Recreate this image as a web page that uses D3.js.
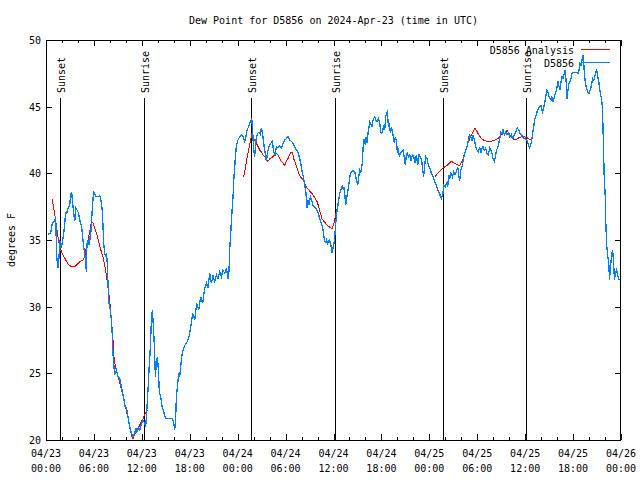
<!DOCTYPE html>
<html><head><meta charset="utf-8">
<script src="https://cdn.jsdelivr.net/npm/d3@7"></script>
<style>
html,body{margin:0;padding:0;background:#fff;}
text{font-family:"DejaVu Sans Mono","Liberation Mono",monospace;font-size:10px;fill:#000;}
</style></head>
<body>
<svg id="chart" width="640" height="480"></svg>
<script>
// ---- data (hours after 2024-04-23 00:00 UTC) ----
const titleText = "Dew Point for D5856 on 2024-Apr-23 (time in UTC)";
const yLabel = "degrees F";
const seriesNames = ["D5856 Analysis", "D5856"];
const yTicks = [20, 25, 30, 35, 40, 45, 50];

const obsHours = [0.25,0.59,0.68,0.80,1.09,1.21,1.34,1.50,1.63,1.72,1.84,1.97,2.22,2.47,2.59,2.72,2.97,3.09,3.22,3.31,3.47,3.60,3.72,3.88,4.09,4.22,4.35,4.47,4.56,4.72,4.85,4.97,5.06,5.13,5.26,5.38,5.47,5.56,5.69,5.81,5.94,6.01,6.14,6.31,6.51,6.72,6.85,6.94,7.06,7.14,7.23,7.35,7.48,7.56,7.68,7.76,7.89,8.06,8.19,8.31,8.39,8.51,8.60,8.82,9.02,9.23,9.35,9.52,9.64,9.77,9.85,10.07,10.19,10.32,10.48,10.69,10.89,11.11,11.23,11.39,11.57,11.73,11.86,11.98,12.15,12.36,12.48,12.57,12.70,12.82,12.90,13.07,13.20,13.32,13.45,13.57,13.70,13.82,13.95,14.07,14.20,14.36,14.53,14.74,14.99,15.28,15.58,15.83,15.99,16.12,16.24,16.33,16.45,16.62,16.74,16.87,16.99,17.16,17.37,17.58,17.78,17.91,18.12,18.37,18.62,18.87,19.12,19.37,19.62,19.87,20.09,20.29,20.50,20.71,20.91,21.13,21.34,21.54,21.75,21.96,22.16,22.38,22.59,22.79,22.92,23.00,23.13,23.25,23.42,23.54,23.72,23.84,24.04,24.26,24.47,24.67,24.88,25.04,25.17,25.38,25.51,25.63,25.76,25.84,26.01,26.13,26.22,26.35,26.51,26.67,26.85,26.97,27.10,27.26,27.42,27.60,27.72,27.92,28.14,28.35,28.51,28.68,28.85,29.05,29.26,29.48,29.68,29.89,30.10,30.30,30.52,30.73,30.93,31.14,31.35,31.56,31.77,31.98,32.11,32.27,32.39,32.52,32.61,32.68,32.81,32.93,33.11,33.27,33.43,33.61,33.77,33.93,34.11,34.27,34.49,34.69,34.81,34.99,35.11,35.24,35.36,35.49,35.61,35.74,35.81,35.94,36.06,36.19,36.28,36.40,36.53,36.65,36.78,36.90,37.03,37.11,37.24,37.32,37.44,37.53,37.62,37.74,37.87,37.99,38.12,38.24,38.44,38.66,38.78,38.91,39.03,39.16,39.28,39.41,39.53,39.62,39.69,39.78,39.91,40.00,40.07,40.20,40.32,40.45,40.53,40.66,40.82,40.95,41.16,41.28,41.45,41.62,41.79,41.91,42.04,42.16,42.29,42.41,42.54,42.66,42.75,42.88,43.00,43.13,43.25,43.38,43.50,43.63,43.75,43.88,44.00,44.13,44.25,44.38,44.54,44.70,44.88,45.00,45.13,45.25,45.38,45.54,45.71,45.88,46.04,46.21,46.38,46.54,46.71,46.88,47.04,47.17,47.29,47.42,47.54,47.71,47.88,48.05,48.26,48.46,48.67,48.88,49.08,49.29,49.50,49.70,49.83,50.01,50.14,50.30,50.43,50.55,50.71,50.89,51.05,51.22,51.39,51.55,51.68,51.80,51.93,52.05,52.22,52.39,52.55,52.72,52.89,53.02,53.18,53.34,53.47,53.64,53.81,53.97,54.14,54.31,54.43,54.60,54.72,54.90,55.06,55.22,55.40,55.56,55.69,55.85,55.97,56.15,56.27,56.40,56.56,56.69,56.81,56.97,57.10,57.23,57.40,57.56,57.73,57.90,58.06,58.27,58.48,58.65,58.82,59.03,59.19,59.36,59.53,59.69,59.86,60.03,60.19,60.36,60.53,60.69,60.82,60.94,61.07,61.19,61.32,61.48,61.66,61.82,61.98,62.16,62.32,62.48,62.61,62.73,62.86,62.98,63.11,63.24,63.36,63.49,63.61,63.74,63.86,63.99,64.11,64.24,64.36,64.49,64.61,64.74,64.86,64.99,65.11,65.24,65.36,65.49,65.61,65.74,65.86,65.99,66.20,66.42,66.62,66.74,66.87,66.99,67.12,67.24,67.33,67.42,67.54,67.67,67.83,68.00,68.17,68.34,68.46,68.59,68.71,68.84,68.96,69.09,69.21,69.34,69.50,69.63,69.72,69.81,69.88,70.01,70.10,70.22,70.35,70.47,70.56,70.69,70.81,70.94,71.06,71.18,71.30,71.43,71.55,71.68,71.85];
const obsValues = [35.45,35.5,35.9,36.25,36.4,36.8,33.75,32.9,33.65,35.0,34.4,34.6,35.5,37.05,37.0,37.3,37.6,38.4,38.6,37.9,37.0,36.4,37.4,37.25,37.0,36.5,36.25,35.9,35.4,34.5,34.0,33.3,32.6,34.75,35.0,34.6,35.3,35.0,36.3,37.5,38.5,38.6,38.4,38.25,38.25,38.3,38.1,37.75,37.1,36.0,34.75,34.0,33.75,34.0,33.25,31.75,30.25,29.75,29.0,27.75,26.5,25.5,24.9,25.25,24.75,24.6,24.25,23.75,23.4,23.0,22.5,22.4,22.0,21.5,21.0,20.5,20.25,20.5,20.9,20.6,20.9,20.75,21.0,21.25,21.5,21.25,21.0,21.75,23.0,24.25,25.25,27.0,29.0,29.75,28.5,27.0,24.75,25.75,26.25,25.25,23.5,23.25,22.5,22.1,21.6,21.6,21.6,21.6,21.25,20.75,21.75,23.25,24.0,25.0,24.75,25.5,26.25,26.75,27.1,27.25,27.5,27.75,28.5,29.5,29.0,30.25,29.75,30.75,30.25,31.4,31.75,31.4,32.55,31.75,32.3,31.9,32.4,32.1,32.6,32.25,32.75,32.5,32.9,32.1,32.75,34.25,35.5,36.75,38.25,39.75,41.25,42.1,42.5,42.75,42.9,42.75,42.4,42.75,43.25,43.5,43.75,43.9,44.1,43.5,41.75,41.25,42.0,42.75,43.0,43.1,42.9,43.4,43.1,42.25,41.6,40.9,41.5,42.0,42.25,42.4,41.6,41.4,42.0,41.9,42.05,41.9,42.25,42.5,42.6,42.75,42.5,42.4,42.25,42.0,41.75,41.6,41.1,40.5,40.0,39.6,39.1,38.75,38.0,37.4,38.0,37.6,38.25,38.0,37.6,37.5,37.4,37.25,37.0,36.6,36.25,35.75,35.25,34.75,35.0,34.75,34.9,35.0,34.75,34.4,34.0,34.4,34.75,35.5,36.25,37.0,37.6,38.0,38.5,38.75,38.9,39.1,38.75,39.0,38.25,37.6,38.0,38.5,38.9,39.5,40.0,40.1,40.25,40.1,39.75,39.4,39.1,39.75,40.25,40.1,40.4,40.9,41.75,42.6,42.4,42.1,42.75,42.25,43.0,43.5,43.9,43.75,43.5,44.0,44.25,44.0,43.9,44.1,43.75,43.1,43.0,43.25,43.5,43.25,44.25,44.5,44.6,43.5,43.75,43.0,43.5,43.1,42.75,42.25,42.75,42.4,41.6,41.75,41.25,41.5,41.6,41.75,41.1,40.6,41.4,41.5,41.25,41.4,40.9,41.4,41.25,40.75,41.4,40.6,41.4,41.25,41.0,40.25,39.75,40.6,41.25,41.1,40.6,40.4,40.0,39.8,39.4,39.1,38.75,38.45,38.1,38.5,39.1,39.0,39.25,39.0,39.9,39.6,40.0,39.75,40.1,39.9,40.1,40.5,39.9,39.4,40.25,40.4,40.9,41.4,41.75,42.0,42.5,42.9,42.75,42.5,42.9,42.5,42.0,41.75,41.6,42.0,41.5,41.9,42.0,41.75,41.9,41.5,41.4,41.9,41.75,41.5,41.1,40.9,41.25,41.75,41.9,42.25,42.6,43.1,43.0,43.25,42.9,43.1,42.9,43.0,42.75,42.9,42.6,42.9,43.1,43.4,43.25,43.0,42.9,42.75,42.6,42.6,42.5,42.25,41.9,42.1,42.5,43.0,43.5,44.0,44.25,44.6,44.9,45.0,45.1,44.6,44.9,45.4,45.9,46.25,46.1,45.75,45.6,45.5,45.75,45.4,45.6,45.9,46.1,46.5,46.9,46.5,46.25,46.9,47.25,47.1,47.4,47.75,47.1,45.6,46.25,46.75,46.9,47.1,47.5,47.55,47.55,47.55,47.5,47.75,48.25,48.1,48.5,48.9,48.25,47.5,46.75,46.4,46.1,46.0,46.25,46.75,47.1,47.0,47.25,47.6,47.75,47.25,46.9,46.25,45.75,45.25,44.0,42.0,40.0,38.5,36.25,34.5,33.75,33.25,32.0,33.0,33.75,34.25,33.5,32.0,32.5,32.75,32.5,32.1,32.0];

// analysis series; null marks a gap between runs
const anaHours = [0.75,0.96,1.18,1.38,1.55,1.72,1.84,2.13,2.47,2.75,3.06,3.38,3.72,4.01,4.31,4.63,4.85,5.06,5.26,5.47,5.69,5.89,6.10,6.31,6.51,6.72,6.94,7.14,7.35,7.56,7.76,7.98,8.10,8.26,8.39,8.51,8.69,8.89,9.10,9.32,9.52,9.73,9.94,10.14,10.36,10.57,10.77,10.89,11.11,11.32,11.52,11.73,11.95,12.15,12.36,12.57,12.77,
  18.0,
  24.76,24.92,25.09,25.26,25.42,25.60,25.76,25.92,26.13,26.35,26.55,26.76,26.97,27.17,27.39,27.60,27.80,28.01,28.42,28.64,28.85,29.05,29.26,29.48,29.68,29.89,30.10,30.30,30.52,30.73,30.85,31.02,31.23,31.43,31.64,31.86,32.06,32.27,32.48,32.68,32.90,33.11,33.31,33.52,33.73,33.93,34.15,34.36,34.56,34.77,35.02,35.24,35.44,35.65,35.86,36.06,36.28,36.49,36.69,
  42.0,
  48.67,49.08,49.50,49.70,50.21,50.76,51.18,51.80,52.22,52.64,53.05,53.47,53.72,54.09,54.52,54.93,55.35,55.77,56.19,56.60,57.03,57.44,57.73,58.06,58.48,58.90,59.32,59.73,60.15,60.57,60.77];
const anaValues = [38.1,37.4,36.6,35.75,35.0,34.6,34.25,33.9,33.5,33.2,33.05,33.0,33.05,33.25,33.4,33.5,33.75,34.5,35.0,35.6,36.4,36.25,35.9,35.5,35.1,34.6,34.1,33.75,33.1,32.4,31.4,30.5,29.5,28.5,27.5,26.25,25.5,25.0,24.6,24.1,23.6,23.1,22.5,22.0,21.4,20.75,20.25,20.1,20.4,20.6,20.9,21.1,21.4,21.6,21.9,22.1,22.25,
  null,
  39.75,40.25,40.9,41.4,41.9,42.4,42.9,42.75,42.5,42.25,42.0,41.75,41.6,41.4,41.25,41.0,40.9,41.1,41.25,41.4,41.5,41.4,41.1,40.9,40.75,40.6,40.9,41.1,41.4,41.6,41.6,41.1,40.75,40.4,40.0,39.75,39.6,39.4,39.1,38.9,38.75,38.6,38.5,38.3,38.1,37.9,37.5,37.0,36.6,36.4,36.25,36.1,36.0,35.9,35.9,36.25,36.9,37.4,37.9,
  null,
  39.75,40.0,40.25,40.4,40.6,40.9,40.75,40.55,41.1,41.9,42.6,43.1,43.4,43.0,42.6,42.45,42.4,42.4,42.5,42.6,42.9,43.0,43.25,42.9,42.55,42.55,42.7,42.75,42.7,42.55,42.5];

const sunHours = [1.80, 12.27, 25.67, 36.19, 49.71, 60.07];
const sunLabels = ["Sunset", "Sunrise", "Sunset", "Sunrise", "Sunset", "Sunrise"];

// ---- chart ----
const base = Date.UTC(2024, 3, 23);
const toDate = h => new Date(base + h * 3600e3);
const W = 640, H = 480;
const m = {left: 46, right: 19, top: 40, bottom: 40};
const svg = d3.select("#chart");

const x = d3.scaleUtc().domain([toDate(0), toDate(72)]).range([m.left, W - m.right]);
const y = d3.scaleLinear().domain([20, 50]).range([H - m.bottom, m.top]);

// title
svg.append("text").attr("x", (m.left + W - m.right) / 2).attr("y", 24)
  .attr("text-anchor", "middle").text(titleText);

// y label
svg.append("text").attr("transform", `translate(15,${(y(20)+y(50))/2}) rotate(-90)`)
  .attr("text-anchor", "middle").text(yLabel);

const majorX = d3.utcHour.every(6).range(toDate(0), toDate(72.01));
const minorX = d3.utcHour.every(2).range(toDate(0), toDate(72.01)).filter(d => d.getUTCHours() % 6 !== 0);
const fmtD = d3.utcFormat("%m/%d"), fmtT = d3.utcFormat("%H:%M");

const axes = svg.append("g").attr("stroke", "#000").attr("stroke-width", 1).attr("shape-rendering", "crispEdges");
// x ticks (bottom and top, inward)
[[majorX, 6], [minorX, 3]].forEach(([arr, len]) => {
  arr.forEach(d => {
    const xx = Math.round(x(d)) + 0.5;
    axes.append("line").attr("x1", xx).attr("x2", xx).attr("y1", y(20)).attr("y2", y(20) - len);
    axes.append("line").attr("x1", xx).attr("x2", xx).attr("y1", y(50)).attr("y2", y(50) + len);
  });
});
// y ticks (left and right)
yTicks.forEach(v => {
  const yy = Math.round(y(v)) + 0.5;
  axes.append("line").attr("x1", x.range()[0]).attr("x2", x.range()[0] + 6).attr("y1", yy).attr("y2", yy);
  axes.append("line").attr("x1", x.range()[1]).attr("x2", x.range()[1] - 6).attr("y1", yy).attr("y2", yy);
});

// tick labels
majorX.forEach(d => {
  const t = svg.append("text").attr("x", x(d)).attr("text-anchor", "middle");
  t.append("tspan").attr("x", x(d)).attr("y", y(20) + 17).text(fmtD(d));
  t.append("tspan").attr("x", x(d)).attr("y", y(20) + 32).text(fmtT(d));
});
yTicks.forEach(v => {
  svg.append("text").attr("x", m.left - 5).attr("y", y(v) + 4).attr("text-anchor", "end").text(v);
});

// sunrise/sunset markers
sunHours.forEach((h, i) => {
  const xx = Math.round(x(toDate(h))) + 0.5;
  axes.append("line").attr("x1", xx).attr("x2", xx).attr("y1", y(20)).attr("y2", y(50) + 58);
  svg.append("text").attr("transform", `translate(${xx + 4},${y(50) + 53}) rotate(-90)`)
    .attr("text-anchor", "start").text(sunLabels[i]);
});

// series
const anaData = anaHours.map((h, i) => ({t: toDate(h), v: anaValues[i]}));
const obsData = obsHours.map((h, i) => ({t: toDate(h), v: obsValues[i]}));
const line = d3.line().defined(d => d.v !== null).x(d => x(d.t)).y(d => y(d.v));

svg.append("path").datum(anaData).attr("d", line).attr("fill", "none")
  .attr("stroke", "#ff0000").attr("stroke-width", 1).attr("shape-rendering", "crispEdges");
svg.append("path").datum(obsData).attr("d", line).attr("fill", "none")
  .attr("stroke", "#0080ff").attr("stroke-width", 1.3).attr("shape-rendering", "crispEdges");

// legend
const legX = 574;
const lg = [["#ff0000", 54, 49], ["#0080ff", 67, 62]];
seriesNames.forEach((n, i) => {
  svg.append("text").attr("x", legX).attr("y", lg[i][1]).attr("text-anchor", "end").text(n);
  svg.append("line").attr("x1", legX + 7).attr("x2", legX + 36).attr("y1", lg[i][2] + 0.5).attr("y2", lg[i][2] + 0.5)
    .attr("stroke", lg[i][0]).attr("stroke-width", 1).attr("shape-rendering", "crispEdges");
});

// border
svg.append("rect").attr("x", m.left + 0.5).attr("y", m.top + 0.5)
  .attr("width", W - m.right - m.left - 1).attr("height", H - m.bottom - m.top)
  .attr("fill", "none").attr("stroke", "#000").attr("shape-rendering", "crispEdges");
</script>
</body></html>
